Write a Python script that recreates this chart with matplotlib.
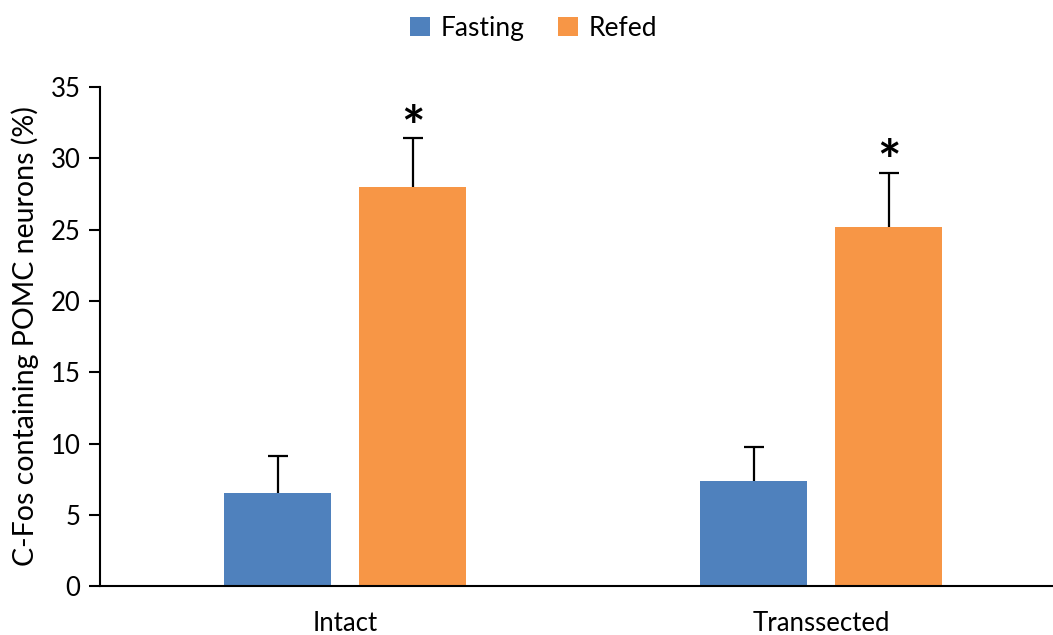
import matplotlib.pyplot as plt
import numpy as np

plt.rcParams['font.family'] = ['Lato', 'DejaVu Sans']

groups = ['Intact', 'Transsected']
fasting = [6.5, 7.4]
fasting_err = [2.6, 2.35]
refed = [28.0, 25.2]
refed_err = [3.4, 3.8]
stars = ['*', '*']

x = np.arange(len(groups))
w = 0.225
off = 0.142

fig = plt.figure(figsize=(10.53, 6.35), dpi=100)
ax = fig.add_axes([0.095, 0.077, 0.905, 0.786])

ax.bar(x - off, fasting, w, color='#4F81BD', label='Fasting')
ax.bar(x + off, refed, w, color='#F79646', label='Refed')

# upper-only error bars with a cap on top
for xs, vals, errs in [(x - off, fasting, fasting_err), (x + off, refed, refed_err)]:
    vals = np.array(vals)
    errs = np.array(errs)
    ax.errorbar(xs, vals, yerr=[np.zeros(len(xs)), errs], fmt='none',
                ecolor='black', elinewidth=1.6, capsize=0)
    ax.plot(xs, vals + errs, ls='none', marker='_', markersize=14,
            markeredgewidth=1.6, color='black')

# significance marks above the refed error bars
for xi, v, e, s in zip(x + off, refed, refed_err, stars):
    ax.annotate(s, (xi, v + e), xytext=(0, -12), textcoords='offset points',
                ha='center', va='bottom', fontsize=40, fontweight='bold')

ax.set_xlim(-0.515, 1.487)
ax.set_ylim(0, 35)
ax.set_yticks(range(0, 36, 5))
ax.set_xticks(x)
ax.set_xticklabels(groups)
ax.tick_params(axis='x', length=0, pad=18, labelsize=18.5)
ax.tick_params(axis='y', length=8, width=1.5, labelsize=18.5, direction='out', pad=6)
ax.set_ylabel('C-Fos containing POMC neurons (%)', fontsize=20.5, labelpad=8)

for side in ['top', 'right']:
    ax.spines[side].set_visible(False)
for side in ['left', 'bottom']:
    ax.spines[side].set_linewidth(1.5)

ax.legend(loc='upper center', bbox_to_anchor=(0.455, 1.19), ncol=2, frameon=False,
          fontsize=19, handlelength=0.75, handleheight=0.75, handletextpad=0.4,
          columnspacing=1.3)

fig.savefig('out.png', dpi=100)
